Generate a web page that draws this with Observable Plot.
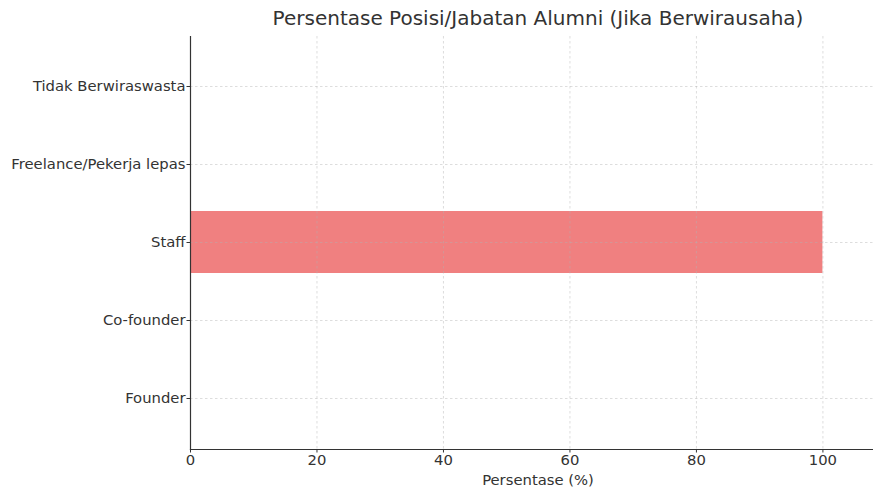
<!DOCTYPE html>
<html>
<head>
<meta charset="utf-8">
<script src="https://cdn.jsdelivr.net/npm/d3@7"></script>
<script src="https://cdn.jsdelivr.net/npm/@observablehq/plot@0.6"></script>
<style>
  html, body { margin: 0; padding: 0; background: #fff; }
  body { width: 873px; height: 488px; overflow: hidden; font-family: "DejaVu Sans", sans-serif; }
  #title { position: relative; height: 35px; width: 873px; }
  #title span { position: absolute; left: 538px; top: 6px; transform: translateX(-50%); font-size: 20px; color: #333; white-space: nowrap; }
</style>
</head>
<body>
<div id="title"><span>Persentase Posisi/Jabatan Alumni (Jika Berwirausaha)</span></div>
<div id="chart"></div>
<script>
const categories = ["Founder", "Co-founder", "Staff", "Freelance/Pekerja lepas", "Tidak Berwiraswasta"];
const values = [0, 0, 100, 0, 0];
const xTicks = [0, 20, 40, 60, 80, 100];
const xLabel = "Persentase (%)";

const data = categories.map((c, i) => ({category: c, value: values[i]}));
const yDomain = categories.slice().reverse();

const chart = Plot.plot({
  width: 873,
  height: 453,
  marginLeft: 190,
  marginRight: 0,
  marginTop: 1,
  marginBottom: 39,
  style: {fontFamily: "DejaVu Sans, sans-serif", fontSize: "14.8px", color: "#333", background: "#fff"},
  x: {domain: [0, 108], ticks: xTicks},
  y: {domain: yDomain, paddingInner: 0.2, paddingOuter: 0.24},
  marks: [
    Plot.barX(data, {x: "value", y: "category", fill: "#F08080"}),
    Plot.gridX(xTicks, {stroke: "#b0b0b0", strokeOpacity: 0.55, strokeDasharray: "2.5,2.5", strokeWidth: 0.8}),
    Plot.gridY(categories, {stroke: "#b0b0b0", strokeOpacity: 0.55, strokeDasharray: "2.5,2.5", strokeWidth: 0.8}),
    Plot.axisX(xTicks, {tickSize: 3.5, tickPadding: 1, label: null, fontSize: 14.8, fill: "#333", stroke: "#333"}),
    Plot.axisY(yDomain, {tickSize: 3.5, tickPadding: 1.5, label: null, fontSize: 14.8, fill: "#333", stroke: "#333"}),
    Plot.frame({anchor: "left", stroke: "#333", strokeWidth: 1.2}),
    Plot.frame({anchor: "bottom", stroke: "#333", strokeWidth: 1.2}),
    Plot.text([xLabel], {frameAnchor: "bottom", dx: 6, dy: 31, fontSize: 14.8, fill: "#333", lineAnchor: "middle"})
  ]
});
document.getElementById("chart").appendChild(chart);
</script>
</body>
</html>
